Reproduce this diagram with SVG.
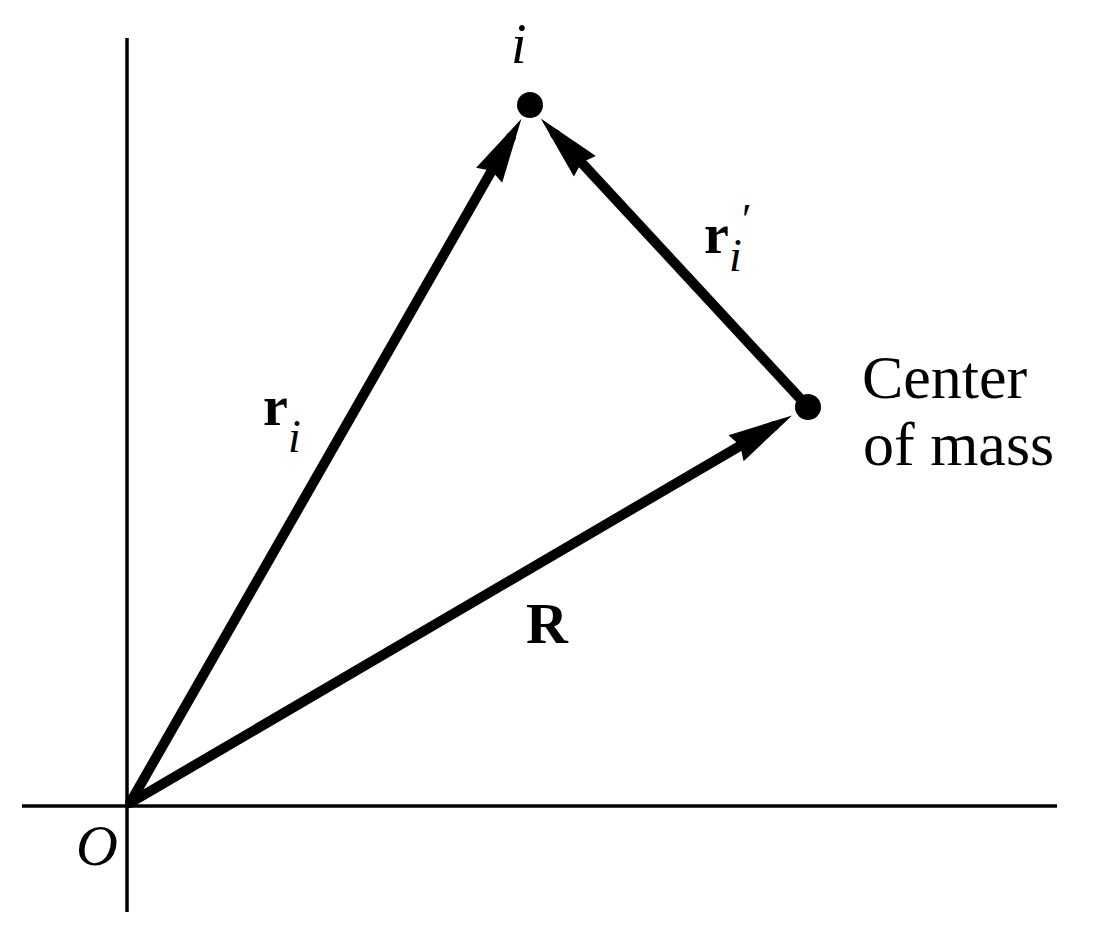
<svg xmlns="http://www.w3.org/2000/svg" width="1117" height="941" viewBox="0 0 1117 941">
<defs>
<style>
.axis{stroke:#000;stroke-width:3.5;fill:none}
.vec{stroke:#000;stroke-width:10;fill:none;stroke-linecap:round}
.serif{font-family:"Liberation Serif","Times New Roman",serif;fill:#000}
.bold{font-weight:bold}
.it{font-style:italic}
</style>
<marker id="ah" markerUnits="userSpaceOnUse" markerWidth="66" markerHeight="34" viewBox="0 0 66 34" refX="44" refY="17" orient="auto">
<path d="M0,2 L65,17 L0,32 L5,17 z" fill="#000"/>
</marker>
</defs>
<rect width="1117" height="941" fill="#fff"/>
<g id="axes">
<line class="axis" x1="127" y1="38" x2="127" y2="912"/>
<line class="axis" x1="22" y1="806" x2="1057" y2="806"/>
</g>
<g id="connectors">
<line class="vec" x1="130" y1="803" x2="511" y2="137" marker-end="url(#ah)"/>
<line class="vec" x1="808" y1="407" x2="555" y2="134" marker-end="url(#ah)"/>
<line class="vec" x1="130" y1="803" x2="774" y2="426" marker-end="url(#ah)"/>
</g>
<g id="node-i">
<circle cx="530" cy="105" r="13" fill="#000"/>
<text class="serif it" x="511" y="63" font-size="56">i</text>
</g>
<g id="node-com">
<circle cx="808" cy="407" r="13" fill="#000"/>
<text class="serif" x="862" y="398" font-size="62">Center</text>
<text class="serif" x="863" y="465" font-size="62">of mass</text>
</g>
<g id="node-origin">
<text class="serif it" x="76" y="865" font-size="58">O</text>
</g>
<g id="labels">
<text class="serif bold" x="263" y="425" font-size="56">r</text>
<text class="serif it" x="288" y="452" font-size="46">i</text>
<text class="serif bold" x="704" y="253" font-size="56">r</text>
<text class="serif" x="742" y="234" font-size="44">′</text>
<text class="serif it" x="729" y="271" font-size="46">i</text>
<text class="serif bold" x="526" y="643" font-size="58">R</text>
</g>
</svg>
